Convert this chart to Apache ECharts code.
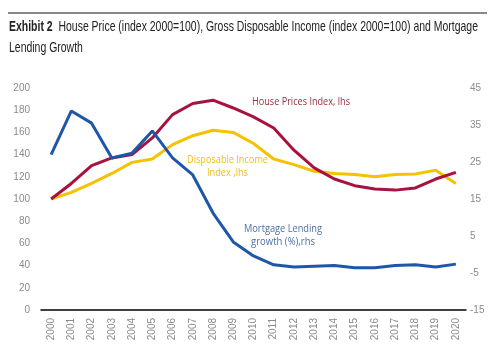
<!DOCTYPE html>
<html><head><meta charset="utf-8">
<script src="https://cdn.jsdelivr.net/npm/echarts@6/dist/echarts.min.js"></script>
<style>html,body{margin:0;padding:0;background:#fff}#c{width:501px;height:357px}</style>
</head><body><div id="c"></div>
<script>
const years = ['2000','2001','2002','2003','2004','2005','2006','2007','2008','2009','2010','2011','2012','2013','2014','2015','2016','2017','2018','2019','2020'];
const housePrice = [100,114,130,137,140,155,176,186,189,182,174,164,144,128,118,112,109,108,110,118,124];
const dispIncome = [100,106,114,123,133,136,149,157,162,160,150,136,131,125,123,122,120,122,122.5,126,114];
const mortgage = [27,38.8,35.5,26.1,27.4,33.4,26.1,21.5,11.2,3.4,-0.4,-2.8,-3.4,-3.2,-3,-3.6,-3.6,-3,-2.8,-3.4,-2.6];
const leftTicks = [0,200,20];
const rightTicks = [-15,45,10];

const sans = '"Liberation Sans", Arial, sans-serif';
const ann = '"Open Sans", sans-serif';
const cv = document.createElement('canvas').getContext('2d');
function w(text, font){ cv.font = font; return cv.measureText(text).width; }
function fitText(text, x, y, target, font, color){
  const s = target / w(text, font);
  return {type:'text', x:x, y:y, scaleX:s, style:{text:text, font:font, fill:color, x:0, y:0, verticalAlign:'top'}};
}
const t1a = 'Exhibit 2', t1b = '  House Price (index 2000=100), Gross Disposable Income (index 2000=100) and Mortgage';
const fB = 'bold 14.5px '+sans, fN = '14.5px '+sans;
const titleScale = 469 / (w(t1a,fB) + w(t1b,fN));

const chart = echarts.init(document.getElementById('c'));
chart.setOption({
  animation:false,
  graphic:[
    {type:'line',shape:{x1:8,y1:13,x2:487,y2:13},style:{stroke:'#111',lineWidth:1.2}},
    {type:'text',x:9,y:19,scaleX:titleScale,style:{x:0,y:0,verticalAlign:'top',text:'{b|'+t1a+'}'+t1b,
      font:fN,fill:'#222',rich:{b:{fontWeight:'bold',fontSize:14.5,fontFamily:sans,fill:'#222'}}}},
    {type:'text',x:9,y:40,scaleX:titleScale,style:{x:0,y:0,verticalAlign:'top',text:'Lending Growth',font:fN,fill:'#222'}},
    fitText('House Prices Index, lhs',252,97,98,'10.5px '+ann,'#9E2A3C'),
    fitText('Disposable Income',187,155,81,'10.5px '+ann,'#F2BE1A'),
    fitText('Index ,lhs',207,168,41,'10.5px '+ann,'#F2BE1A'),
    fitText('Mortgage Lending',244,224,78,'10.5px '+ann,'#4A6FA5'),
    fitText('growth (%),rhs',251,237,64,'10.5px '+ann,'#4A6FA5')
  ],
  grid:{left:41,right:35,top:88,bottom:47},
  xAxis:{type:'category',data:years,boundaryGap:true,
    axisLine:{lineStyle:{color:'#000',width:1.5}},axisTick:{show:false},
    axisLabel:{rotate:90,color:'#8a8a8a',fontSize:10,fontFamily:sans,interval:0,margin:8}},
  yAxis:[
    {type:'value',min:leftTicks[0],max:leftTicks[1],interval:leftTicks[2],splitLine:{show:false},
      axisLine:{show:false},axisTick:{show:false},axisLabel:{color:'#8a8a8a',fontSize:10,fontFamily:sans,margin:11}},
    {type:'value',min:rightTicks[0],max:rightTicks[1],interval:rightTicks[2],splitLine:{show:false},
      axisLine:{show:false},axisTick:{show:false},axisLabel:{color:'#8a8a8a',fontSize:10,fontFamily:sans,margin:4}}
  ],
  series:[
    {type:'line',data:dispIncome,yAxisIndex:0,symbol:'none',lineStyle:{color:'#F5C200',width:3},z:2},
    {type:'line',data:housePrice,yAxisIndex:0,symbol:'none',lineStyle:{color:'#A8123E',width:3},z:3},
    {type:'line',data:mortgage,yAxisIndex:1,symbol:'none',lineStyle:{color:'#1F57A8',width:3},z:4}
  ]
});
</script></body></html>
